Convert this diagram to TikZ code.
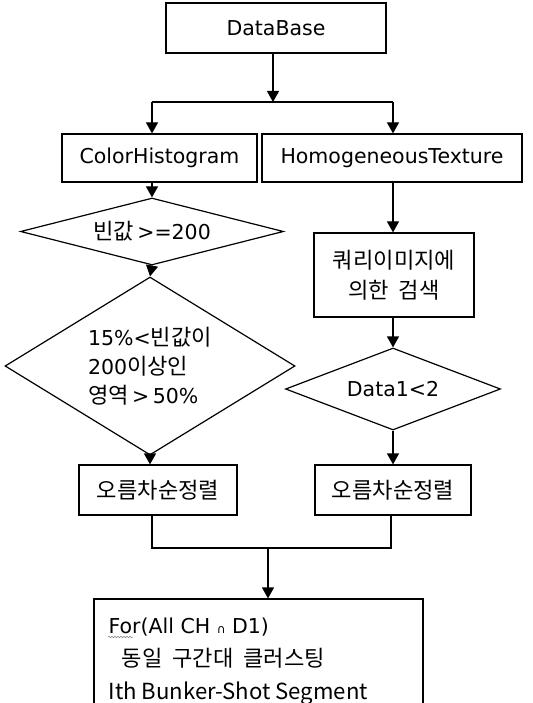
\documentclass[tikz,border=0pt]{standalone}
\usepackage{fontspec}
\setmainfont{DejaVu Sans}
\newfontfamily\krfont[Scale=1.08]{Noto Sans CJK KR}
\newcommand{\kr}[1]{{\krfont #1}}
\usetikzlibrary{arrows.meta,shapes.geometric,decorations.pathmorphing}
\begin{document}
\begin{tikzpicture}[x=1pt,y=-1pt,
  line width=1.2pt,
  arr/.style={-{Triangle[width=12pt,length=11pt]}},
  box/.style={draw,rectangle,inner sep=0pt,font=\fontsize{20.5}{30}\selectfont},
  dia/.style={draw,diamond,inner sep=0pt,font=\fontsize{20.5}{29}\selectfont}]
\useasboundingbox (0,0) rectangle (532,703);
\clip (0,0) rectangle (532,703);
% boxes
\node[box,minimum width=220pt,minimum height=50pt] (db) at (276,28) {DataBase};
\node[box,minimum width=195pt,minimum height=48pt] (ch) at (159.5,158) {ColorHistogram};
\node[box,minimum width=260pt,minimum height=48pt] (ht) at (392,158) {HomogeneousTexture};
\node[dia,minimum width=263pt,minimum height=67pt,aspect=3.9] (d1) at (152,231.5) {\kr{빈값}\,>=200};
\node[dia,minimum width=290pt,minimum height=178pt,aspect=1.63,align=left] (d2) at (150,366)
  {15\%<\kr{빈값이}\\200\kr{이상인}\\\kr{영역}\,>\,50\%};
\node[box,minimum width=160pt,minimum height=84pt,align=center] (qb) at (394,275)
  {\kr{쿼리이미지에}\\\kr{의한\ \ 검색}};
\node[dia,minimum width=215pt,minimum height=82pt,aspect=2.6] (d3) at (393,389) {Data1<2};
\node[box,minimum width=158pt,minimum height=50pt] (bl) at (158,490) {\kr{오름차순정렬}};
\node[box,minimum width=156pt,minimum height=50pt] (br) at (393,490) {\kr{오름차순정렬}};
\node[box,minimum width=329pt,minimum height=130pt] (fin) at (258.5,664) {};
\node[anchor=base west,align=left,inner sep=0pt,font=\fontsize{20.5}{33}\selectfont] (ft) at (108,699)
  {For(All CH {\fontsize{12}{12}\selectfont ∩} D1)\\
   \ \ \kr{동일\ \ 구간대\ \ 클러스팅}\\
   \kr{Ith Bunker-Shot Segment}};
% coordinates
\coordinate (split) at (273,102);
\coordinate (jl) at (152,102);
\coordinate (jr) at (393,102);
\coordinate (ml) at (152,548);
\coordinate (mr) at (391,548);
\coordinate (mm) at (268,548);
\coordinate (ul1) at (108,637);
\coordinate (ul2) at (133,637);
% connectors
\draw[arr] (split |- db.south) -- (split);
\draw (jl) -- (jr);
\draw[arr] (jl) -- (jl |- ch.north);
\draw[arr] (jr) -- (jr |- ht.north);
\draw[arr] (jl |- ch.south) -- (d1.north);
\draw[arr] (d1.south) -- (d2.north);
\draw[arr] (d2.south) -- (d2.south |- bl.north);
\draw[arr] (jr |- ht.south) -- (jr |- qb.north);
\draw[arr] (jr |- qb.south) -- (d3.north);
\draw[arr] (d3.south) -- (d3.south |- br.north);
\draw (ml |- bl.south) -- (ml) -- (mr) -- (mr |- br.south);
\draw[arr] (mm) -- (mm |- fin.north);
\draw[gray,line width=0.5pt,decorate,decoration={snake,amplitude=0.8pt,segment length=3pt}] (ul1) -- (ul2);
\end{tikzpicture}
\end{document}
